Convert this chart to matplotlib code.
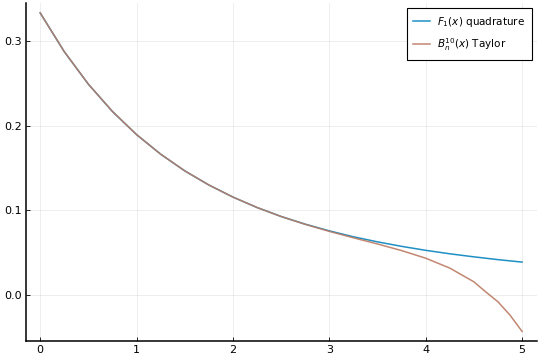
import matplotlib
matplotlib.use("Agg")
import matplotlib.pyplot as plt

# Boys function F_1(x): quadrature values
x_quad = [0.0, 0.25, 0.5, 0.75, 1.0, 1.25, 1.5, 1.75, 2.0, 2.25, 2.5,
          2.75, 3.0, 3.25, 3.5, 3.75, 4.0, 4.25, 4.5, 4.75, 5.0]
f_quad = [0.3333, 0.2875, 0.2491, 0.2168, 0.1895, 0.1664, 0.1467, 0.1300,
          0.1157, 0.1034, 0.0928, 0.0837, 0.0758, 0.0688, 0.0628, 0.0575,
          0.0528, 0.0487, 0.0451, 0.0418, 0.0389]

# truncated Taylor series B_n^10(x)
x_taylor = [0.0, 0.25, 0.5, 0.75, 1.0, 1.25, 1.5, 1.75, 2.0, 2.25, 2.5,
            2.75, 3.0, 3.25, 3.5, 3.75, 4.0, 4.25, 4.5, 4.625, 4.75, 4.875, 5.0]
f_taylor = [0.3333, 0.2875, 0.2491, 0.2168, 0.1895, 0.1664, 0.1467, 0.1300,
            0.1157, 0.1034, 0.0927, 0.0835, 0.0752, 0.0676, 0.0603, 0.0525,
            0.0435, 0.0318, 0.0156, 0.0035, -0.0080, -0.0238, -0.0430]

labels = [r"$F_1(x)$ quadrature", r"$B_n^{10}(x)$ Taylor"]
colori = ["#1f8fc4", "#bb7a62"]

fig = plt.figure(figsize=(5.4, 3.6), dpi=100)
ax = fig.add_axes([0.0476, 0.0528, 0.946, 0.938])

ax.plot(x_quad, f_quad, color=colori[0], lw=1.1, label=labels[0])
ax.plot(x_taylor, f_taylor, color=colori[1], lw=1.1, alpha=0.9, label=labels[1])

ax.set_xlim(-0.15, 5.15)
ax.set_ylim(-0.0543, 0.3446)
ax.set_xticks([0, 1, 2, 3, 4, 5])
ax.set_yticks([0.0, 0.1, 0.2, 0.3])
ax.set_yticklabels(["0.0", "0.1", "0.2", "0.3"])

ax.grid(True, color="black", alpha=0.08, lw=0.6)
ax.spines["top"].set_visible(False)
ax.spines["right"].set_visible(False)
ax.spines["left"].set_linewidth(1.1)
ax.spines["bottom"].set_linewidth(1.1)
ax.tick_params(direction="in", length=3, width=0.6, labelsize=8, pad=3)

leg = ax.legend(loc="upper right", fontsize=7.5, fancybox=False, framealpha=1,
                edgecolor="black", borderpad=0.65, handlelength=1.6,
                handletextpad=0.7, labelspacing=0.7, borderaxespad=0,
                bbox_to_anchor=(0.991, 0.986))
leg.get_frame().set_linewidth(0.8)

fig.savefig("out.png", dpi=100)
plt.close(fig)
